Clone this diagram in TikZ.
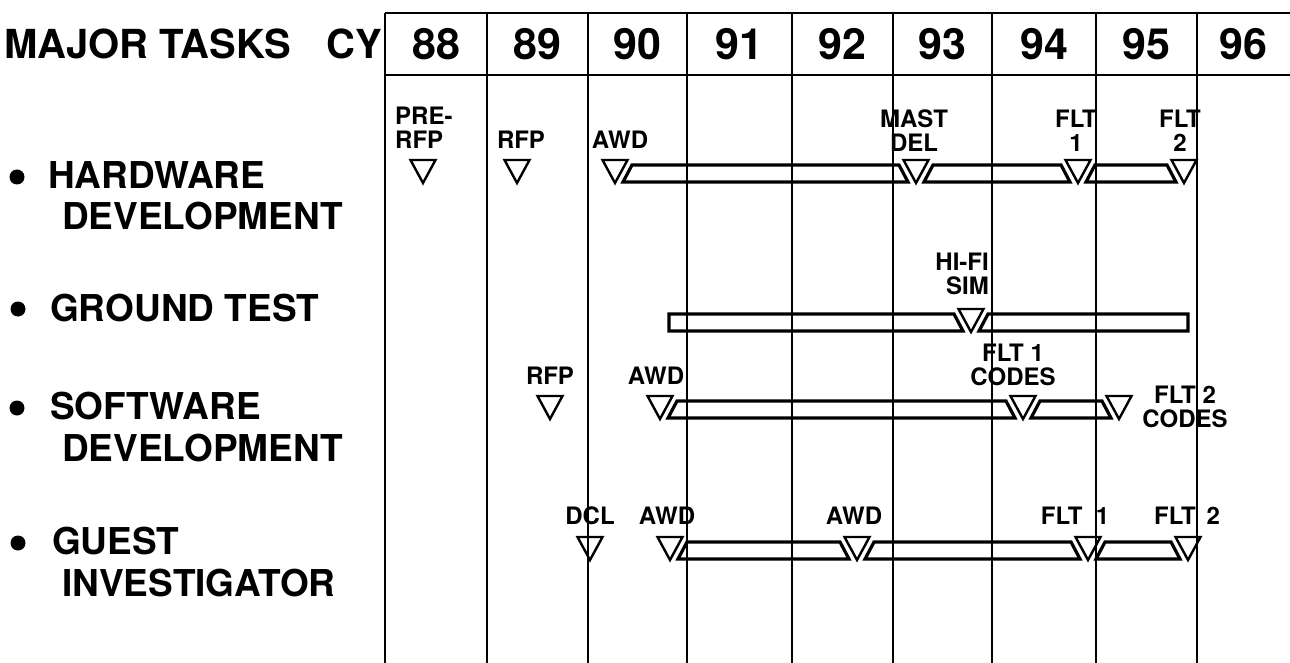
\documentclass[tikz,border=0pt]{standalone}
\usepackage{fontspec}
\setmainfont{TeX Gyre Heros}
\tikzset{
  gridline/.style={line width=2.2pt},
  hdrline/.style={line width=2.8pt},
  hdr/.style={font=\fontsize{40}{44}\selectfont\bfseries, inner sep=0pt},
  yr/.style={font=\fontsize{43}{46}\selectfont\bfseries, inner sep=0pt},
  task/.style={font=\fontsize{37}{42}\selectfont\bfseries, inner sep=0pt, anchor=west},
  lbl/.style={font=\fontsize{24}{24}\selectfont\bfseries, inner sep=0pt, align=center},
  mstri/.style={line width=2.4pt, line join=miter},
  barst/.style={line width=3.2pt, line join=miter},
  pics/ms/.style={code={\draw[mstri] (-12.5,0) -- (12.5,0) -- (0,23) -- cycle;}}
}
\newcommand\sbar[3]{\draw[barst] ({#2+8},{#1+22}) -- ({#2+17},{#1+5}) -- ({#3-17},{#1+5}) -- ({#3-8},{#1+22}) -- cycle;}
\begin{document}
\begin{tikzpicture}[x=1pt,y=-1pt]
\useasboundingbox (0,0) rectangle (1290,663);
% header texts
\node[hdr, anchor=west] (mt) at (4,44) {MAJOR TASKS};
\node[hdr, anchor=east] (cy) at (382,44) {CY};
\node[yr] (y88) at (436,44) {88};
\node[yr] (y89) at (537.5,44) {89};
\node[yr] (y90) at (637.5,44) {90};
\node[yr] (y91) at (739.5,44) {91};
\node[yr] (y92) at (842.5,44) {92};
\node[yr] (y93) at (942.5,44) {93};
\node[yr] (y94) at (1044,44) {94};
\node[yr] (y95) at (1146.5,44) {95};
\node[yr] (y96) at (1243.5,44) {96};
% task labels
\fill (17,177) circle (7.5);
\node[task] (hw1) at (48,175) {HARDWARE};
\node[task] (hw2) at (62,216) {DEVELOPMENT};
\fill (18,309) circle (7.5);
\node[task] (gt) at (50,308) {GROUND TEST};
\fill (17,408) circle (7.5);
\node[task] (sw1) at (50,406) {SOFTWARE};
\node[task] (sw2) at (62,448) {DEVELOPMENT};
\fill (18,543) circle (7.5);
\node[task] (gi1) at (52,541) {GUEST};
\node[task] (gi2) at (62,583) {INVESTIGATOR};
% row 1 hardware
\node[lbl, align=left, anchor=west] (r1a) at (395,128) {PRE-\\RFP};
\node[lbl] (r1b) at (521,140) {RFP};
\node[lbl] (r1c) at (620,140) {AWD};
\node[lbl] (r1d) at (914,131) {MAST\\DEL};
\node[lbl] (r1e) at (1076,131) {FLT\\1};
\node[lbl] (r1f) at (1180,131) {FLT\\2};
\pic at (423,160) {ms};
\pic at (517,160) {ms};
\pic at (615,160) {ms};
\pic at (916,160) {ms};
\pic at (1078,160) {ms};
\pic at (1184,160) {ms};
\sbar{160}{615}{916}
\sbar{160}{916}{1078}
\sbar{160}{1078}{1184}
% row 2 ground test
\node[lbl, align=right, anchor=east] (r2a) at (989,274) {HI-FI\\SIM};
\pic at (971,309) {ms};
\draw[barst] (669,314) -- ({971-17},314) -- ({971-8},331) -- (669,331) -- cycle;
\draw[barst] ({971+8},331) -- ({971+17},314) -- (1188,314) -- (1188,331) -- cycle;
% row 3 software
\node[lbl] (r3a) at (550,376) {RFP};
\node[lbl] (r3b) at (656,376) {AWD};
\node[lbl] (r3c) at (1013,365) {FLT 1\\CODES};
\node[lbl] (r3d) at (1185,407) {FLT 2\\CODES};
\pic at (550,396) {ms};
\pic at (660,396) {ms};
\pic at (1023,396) {ms};
\pic at (1119,396) {ms};
\sbar{396}{660}{1023}
\sbar{396}{1023}{1119}
% row 4 guest investigator
\node[lbl] (r4a) at (590,516) {DCL};
\node[lbl] (r4b) at (667,516) {AWD};
\node[lbl] (r4c) at (854,516) {AWD};
\node[lbl] (r4d) at (1075,516) {FLT\hspace{0.55em}1};
\node[lbl] (r4e) at (1187,516) {FLT\hspace{0.45em}2};
\pic at (590,537) {ms};
\pic at (670,537) {ms};
\pic at (857,537) {ms};
\pic at (1088,537) {ms};
\pic at (1188,537) {ms};
\sbar{537}{670}{857}
\sbar{537}{857}{1088}
\sbar{537}{1088}{1188}
% grid
\draw[hdrline] (385,13) -- (1290,13);
\draw[hdrline] (385,75) -- (1290,75);
\foreach \gx in {385,487,588,687,792,893,992,1096,1197}
  \draw[gridline] (\gx,13) -- (\gx,663);
\end{tikzpicture}
\end{document}
